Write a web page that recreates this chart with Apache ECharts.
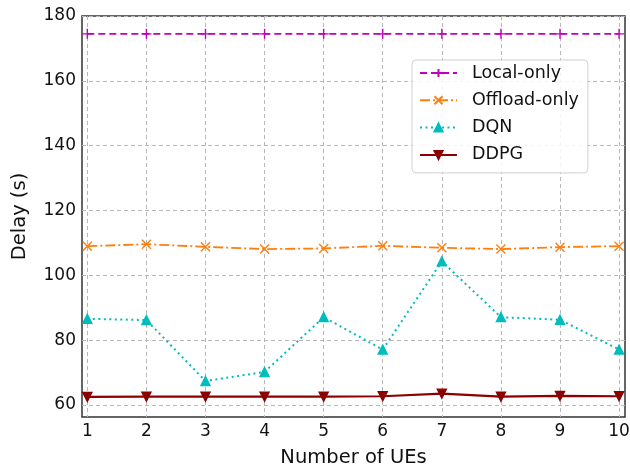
<!DOCTYPE html>
<html>
<head>
<meta charset="utf-8">
<script src="https://cdn.jsdelivr.net/npm/echarts@6/dist/echarts.min.js"></script>
<style>html,body{margin:0;padding:0;background:#fff}#c{width:630px;height:469px}</style>
</head>
<body>
<div id="c"></div>
<script>
const ues = [1, 2, 3, 4, 5, 6, 7, 8, 9, 10];
const localOnly = [174.5, 174.5, 174.5, 174.5, 174.5, 174.5, 174.5, 174.5, 174.5, 174.5];
const offloadOnly = [109.0, 109.6, 108.8, 108.1, 108.3, 109.1, 108.5, 108.1, 108.7, 109.0];
const dqn = [86.6, 86.2, 67.4, 70.2, 87.1, 77.1, 104.3, 87.1, 86.3, 77.1];
const ddpg = [62.5, 62.6, 62.6, 62.6, 62.6, 62.7, 63.5, 62.6, 62.8, 62.7];
const xTicks = [1, 2, 3, 4, 5, 6, 7, 8, 9, 10];
const yTicks = [60, 80, 100, 120, 140, 160, 180];

const pairs = arr => ues.map((x, i) => [x, arr[i]]);
const FONT = 'DejaVu Sans';
const chart = echarts.init(document.getElementById('c'), null, {renderer: 'canvas'});

function mk(name, data, color, lineType, width, symbol, size, extra) {
  return Object.assign({
    name, type: 'line', data: pairs(data),
    symbol, symbolSize: size, showSymbol: true,
    lineStyle: {color, width, type: lineType},
    itemStyle: {color, borderColor: color, borderWidth: 1.4},
    emphasis: {disabled: true}, animation: false
  }, extra || {});
}

const gridLine = {show: true, lineStyle: {color: '#b8b8b8', width: 1, type: [4, 3]}};

chart.setOption({
  animation: false,
  grid: {left: 82, top: 16, right: 5, bottom: 52, containLabel: false, outerBoundsMode: 'none',
         show: true, borderColor: '#333', borderWidth: 1.5, backgroundColor: 'transparent'},
  xAxis: {
    type: 'value', min: 0.91, max: 10.1,
    name: 'Number of UEs', nameLocation: 'middle', nameGap: 31,
    nameTextStyle: {fontFamily: FONT, fontSize: 19.5, color: '#111'},
    axisLine: {show: false},
    axisTick: {show: false, customValues: xTicks},
    axisLabel: {customValues: xTicks, fontFamily: FONT, fontSize: 17, color: '#111', margin: 6},
    splitLine: gridLine
  },
  yAxis: {
    type: 'value', min: 56.3, max: 180,
    name: 'Delay (s)', nameLocation: 'middle', nameGap: 52, nameRotate: 90,
    nameTextStyle: {fontFamily: FONT, fontSize: 19.5, color: '#111'},
    axisLine: {show: false},
    axisTick: {show: false, customValues: yTicks},
    axisLabel: {customValues: yTicks, fontFamily: FONT, fontSize: 17, color: '#111', margin: 6},
    splitLine: gridLine
  },
  legend: {
    orient: 'vertical', left: 412, top: 60,
    padding: [4, 9, 9, 7],
    itemWidth: 37, itemHeight: 10, itemGap: 9.3,
    backgroundColor: 'rgba(255,255,255,0.85)', borderColor: '#d0d0d0', borderWidth: 1, borderRadius: 4,
    textStyle: {fontFamily: FONT, fontSize: 17.5, color: '#111', lineHeight: 18, padding: [0, 0, 0, 10]},
    data: ['Local-only', 'Offload-only', 'DQN', 'DDPG']
  },
  series: [
    mk('Local-only', localOnly, '#c000c0', [7, 4], 1.8, 'path://M0,-1L0,1M-1,0L1,0', 10),
    mk('Offload-only', offloadOnly, '#ff7f0e', [10, 3, 2, 3], 1.8, 'path://M-1,-1L1,1M-1,1L1,-1', 9),
    mk('DQN', dqn, '#00bdbd', [2, 3.5], 2, 'triangle', 9),
    mk('DDPG', ddpg, '#8b0000', 'solid', 2.2, 'triangle', 9, {symbolRotate: 180})
  ]
});
</script>
</body>
</html>
